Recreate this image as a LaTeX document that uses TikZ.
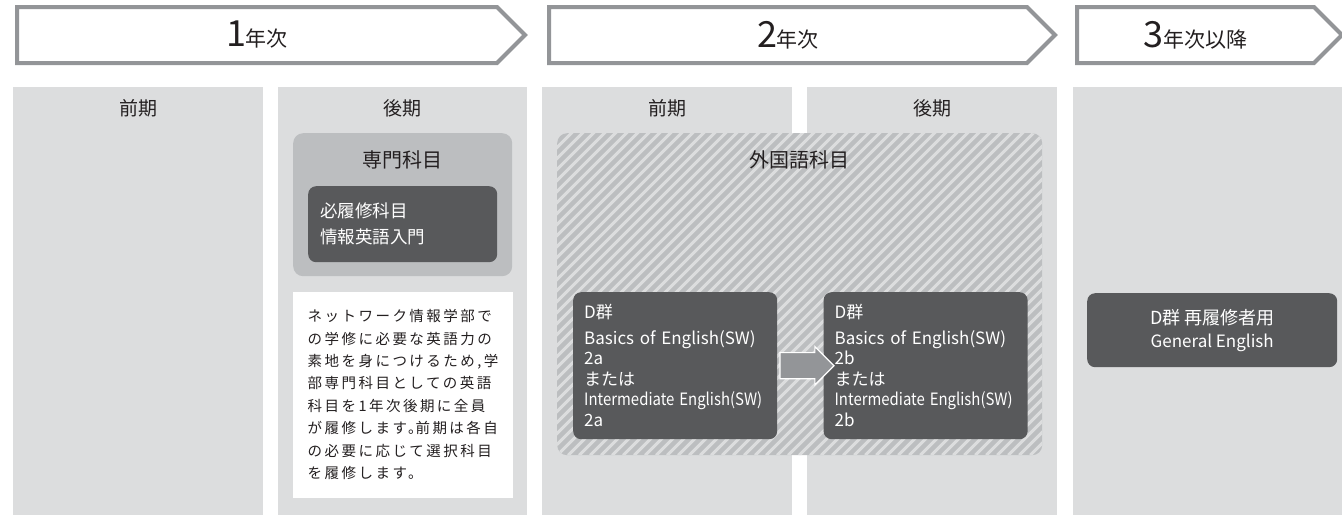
\documentclass[tikz,border=0pt]{standalone}
\usepackage{fontspec}
\setmainfont{Noto Sans CJK JP}
\newfontfamily\spacedfont[LetterSpace=17]{Noto Sans CJK JP}
\usepackage{xcolor}
\usepackage{graphicx}
\usetikzlibrary{
  calc,
  positioning,
  shapes.arrows,
  shapes.symbols
}

\definecolor{barline}{HTML}{939598}
\definecolor{termbg}{HTML}{DCDDDE}
\definecolor{groupbg}{HTML}{BCBEC0}
\definecolor{darkbg}{HTML}{58595B}
\definecolor{ink}{HTML}{231F20}

\newcommand{\yearnum}[1]{{\fontsize{36}{36}\selectfont #1}}
\newcommand{\squeezed}[1]{\resizebox{178pt}{\height}{#1}}

\tikzset{
  yearbar/.style={signal, signal to=east, signal pointer angle=90,
    draw=barline, line width=4pt, fill=white, minimum height=56pt,
    inner sep=0pt, anchor=west, text=ink, font=\fontsize{21}{21}\selectfont},
  term/.style={fill=termbg, anchor=north west, minimum width=250pt,
    minimum height=428pt, inner sep=0pt},
  termlabel/.style={text=ink, font=\fontsize{19}{19}\selectfont},
  groupbox/.style={fill=groupbg, rounded corners=10pt, anchor=north west,
    inner sep=0pt},
  grouplabel/.style={text=ink, font=\fontsize{20}{20}\selectfont},
  coursebox/.style={fill=darkbg, rounded corners=8pt, anchor=north west,
    text=white, inner sep=0pt},
  dcourse/.style={coursebox, minimum width=204pt, minimum height=147pt,
    text width=182pt, align=left, font=\fontsize{17}{20.5}\selectfont},
  notebox/.style={fill=white, inner sep=0pt, text=ink},
  stripe/.style={draw=termbg, line width=3pt},
  blockarrow/.style={single arrow, fill=barline, draw=white, line width=1.2pt,
    minimum height=54pt, single arrow head extend=6pt,
    inner xsep=0pt, inner ysep=12.5pt}
}

\begin{document}
\begin{tikzpicture}[x=1pt,y=-1pt]
  \useasboundingbox (0,0) rectangle (1342,515);

  % The year bars along the top.
  \node [yearbar, minimum width=508pt] (year1) at (15,35) {\yearnum{1}年次};
  \node [yearbar, minimum width=506pt] (year2) at (547,35) {\yearnum{2}年次};
  \node [yearbar, minimum width=265pt] (year3) at (1075,35) {\yearnum{3}年次以降};

  % One grey column for each term.
  \node [term] (t1) at (13,87) {};
  \node [term, minimum width=249pt] (t2) at (278,87) {};
  \node [term] (t3) at (542,87) {};
  \node [term] (t4) at (807,87) {};
  \node [term, minimum width=269pt] (t5) at (1073,87) {};

  \node [termlabel] (t1label) at ([yshift=-21pt]t1.north) {前期};
  \node [termlabel] (t2label) at ([yshift=-21pt]t2.north) {後期};
  \node [termlabel] (t3label) at ([yshift=-21pt]t3.north) {前期};
  \node [termlabel] (t4label) at ([yshift=-21pt]t4.north) {後期};

  % The faculty courses, with the required one inside.
  \node [groupbox, minimum width=219pt, minimum height=143pt] (senmon) at (293,133) {};
  \node [grouplabel] (senmonlabel) at ([yshift=-27pt]senmon.north) {専門科目};
  \node [coursebox, minimum width=189pt, minimum height=76pt, text width=165pt,
    align=left, font=\fontsize{17.5}{26}\selectfont] (required) at (308,186)
    {必履修科目\\情報英語入門};

  % The white note below it.
  \node [notebox, below=15pt of senmon, minimum width=220pt, minimum height=206pt,
    text width=190pt, align=left, font=\spacedfont\fontsize{14.5}{22.4}\selectfont] (note)
    {ネットワーク情報学部で\\
     の学修に必要な英語力の\\
     素地を身につけるため,学\\
     部専門科目としての英語\\
     科目を1年次後期に全員\\
     \mbox{が履修します。\kern-7pt前期は各自}\\
     の必要に応じて選択科目\\
     を履修します。};

  % The hatched area of the foreign language courses.
  \node [groupbox, minimum width=485pt, minimum height=322pt,
    path picture={
      \foreach \s in {0,11,...,825}
        \draw [stripe] ([xshift={(\s-330)*1pt}]path picture bounding box.south west)
          -- ++(330pt,330pt);
    }] (foreign) at (557,133) {};
  \node [grouplabel] (foreignlabel) at ([yshift=-27pt]foreign.north) {外国語科目};

  % The two D courses and the step from one to the other.
  \node [dcourse] (d2a) at (573,292)
    {D群\\[5pt]Basics of English(SW)\\2a\\または\\\squeezed{Intermediate English(SW)}\\2a};
  \node [dcourse, right=46pt of d2a] (d2b)
    {D群\\[5pt]Basics of English(SW)\\2b\\または\\\squeezed{Intermediate English(SW)}\\2b};
  \node [blockarrow] (next) at ($(d2a.east)!0.5!(d2b.west)$) {};

  % The course for those who take it again.
  \node [coursebox, minimum width=250pt, minimum height=74pt, align=center,
    font=\fontsize{17}{23}\selectfont] (retake) at (1087,293)
    {{\fontsize{18}{18}\selectfont D群 再履修者用}\\General English};
\end{tikzpicture}
\end{document}
